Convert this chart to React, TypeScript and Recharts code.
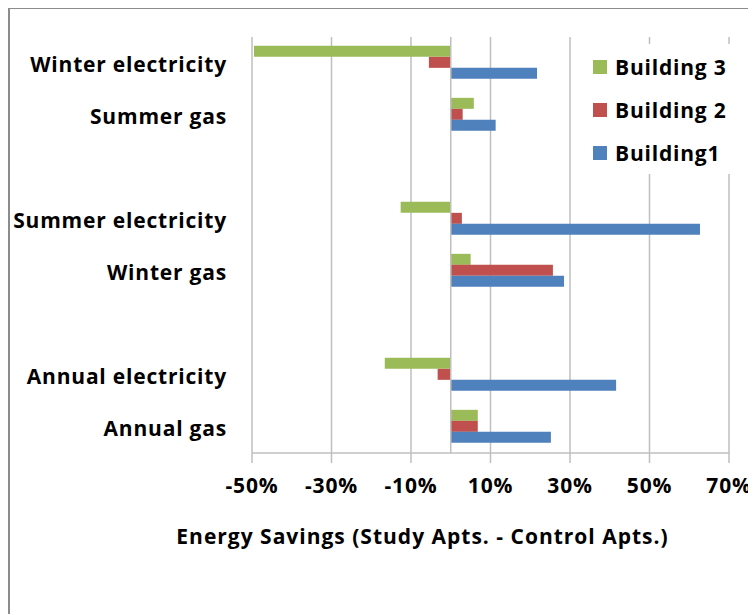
import * as React from "react";
import {
  Bar,
  BarChart,
  CartesianGrid,
  Label,
  Legend,
  ReferenceLine,
  XAxis,
  YAxis,
} from "recharts";

// Categories top to bottom; the blank ones are the gaps between groups.
const CATEGORIES = [
  "Winter electricity",
  "Summer gas",
  " ",
  "Summer electricity",
  "Winter gas",
  "  ",
  "Annual electricity",
  "Annual gas",
];

// Savings in percent, one value per category (null for the gaps).
const BUILDING_3 = [-49.5, 5.8, null, -12.6, 5, null, -16.6, 6.8];
const BUILDING_2 = [-5.5, 3, null, 2.8, 25.7, null, -3.3, 6.8];
const BUILDING_1 = [21.7, 11.3, null, 62.7, 28.5, null, 41.6, 25.2];

const X_TICKS = [-50, -30, -10, 10, 30, 50, 70];

const SERIES = [
  { key: "b3", name: "Building 3", color: "#9BBB59" },
  { key: "b2", name: "Building 2", color: "#C0504D" },
  { key: "b1", name: "Building1", color: "#4F81BD" },
];

const FONT = "'Open Sans', Lato, sans-serif";
const GRID = "#BFBFBF";

const data = CATEGORIES.map((label, i) => ({
  label,
  b3: BUILDING_3[i],
  b2: BUILDING_2[i],
  b1: BUILDING_1[i],
}));

const TICK = {
  fill: "#000",
  fontSize: 21,
  fontWeight: 700,
  fontFamily: FONT,
  letterSpacing: 0.8,
};

function LegendBox() {
  return (
    <div
      style={{
        background: "#fff",
        width: 166,
        height: 130,
        boxSizing: "border-box",
        paddingTop: 1,
        paddingLeft: 13,
        fontFamily: FONT,
        fontWeight: 700,
        fontSize: 21,
        letterSpacing: 0.8,
        color: "#000",
      }}
    >
      {SERIES.map((s) => (
        <div
          key={s.key}
          style={{ display: "flex", alignItems: "center", height: 43 }}
        >
          <span
            style={{
              width: 14,
              height: 14,
              background: s.color,
              marginRight: 8,
              display: "inline-block",
            }}
          />
          {s.name}
        </div>
      ))}
    </div>
  );
}

export default function App() {
  return (
    <div
      style={{
        width: 748,
        height: 607,
        borderTop: "2px solid #8C8C8C",
        borderLeft: "2px solid #8C8C8C",
        boxSizing: "border-box",
        marginTop: -1,
        background: "#fff",
      }}
    >
      <BarChart
        width={746}
        height={600}
        data={data}
        layout="vertical"
        margin={{ top: 28, right: 27, bottom: 56, left: 0 }}
        barCategoryGap="17%"
        barGap={0}
      >
        <CartesianGrid horizontal={false} stroke={GRID} strokeWidth={1.5} />
        <XAxis
          type="number"
          domain={[-50, 70]}
          ticks={X_TICKS}
          interval={0}
          tickFormatter={(v: number) => `${v}%`}
          tick={TICK}
          tickSize={10}
          tickMargin={15}
          stroke={GRID}
          strokeWidth={1.5}
          height={100}
        >
          <Label
            value="Energy Savings (Study Apts. - Control Apts.)"
            position="insideBottom"
            offset={9}
            dx={-68}
            style={{ ...TICK, letterSpacing: 1.0 }}
          />
        </XAxis>
        <YAxis
          type="category"
          dataKey="label"
          width={242}
          axisLine={false}
          tickLine={false}
          tickMargin={19}
          interval={0}
          tick={{ ...TICK, dy: 2 }}
        />
        <ReferenceLine x={0} stroke={GRID} strokeWidth={1.5} />
        <Legend
          layout="vertical"
          align="center"
          verticalAlign="middle"
          wrapperStyle={{ top: 35, left: 570, width: 166, height: 130 }}
          content={() => <LegendBox />}
        />
        {SERIES.map((s) => (
          <Bar
            key={s.key}
            dataKey={s.key}
            name={s.name}
            fill={s.color}
            isAnimationActive={false}
          />
        ))}
      </BarChart>
    </div>
  );
}
